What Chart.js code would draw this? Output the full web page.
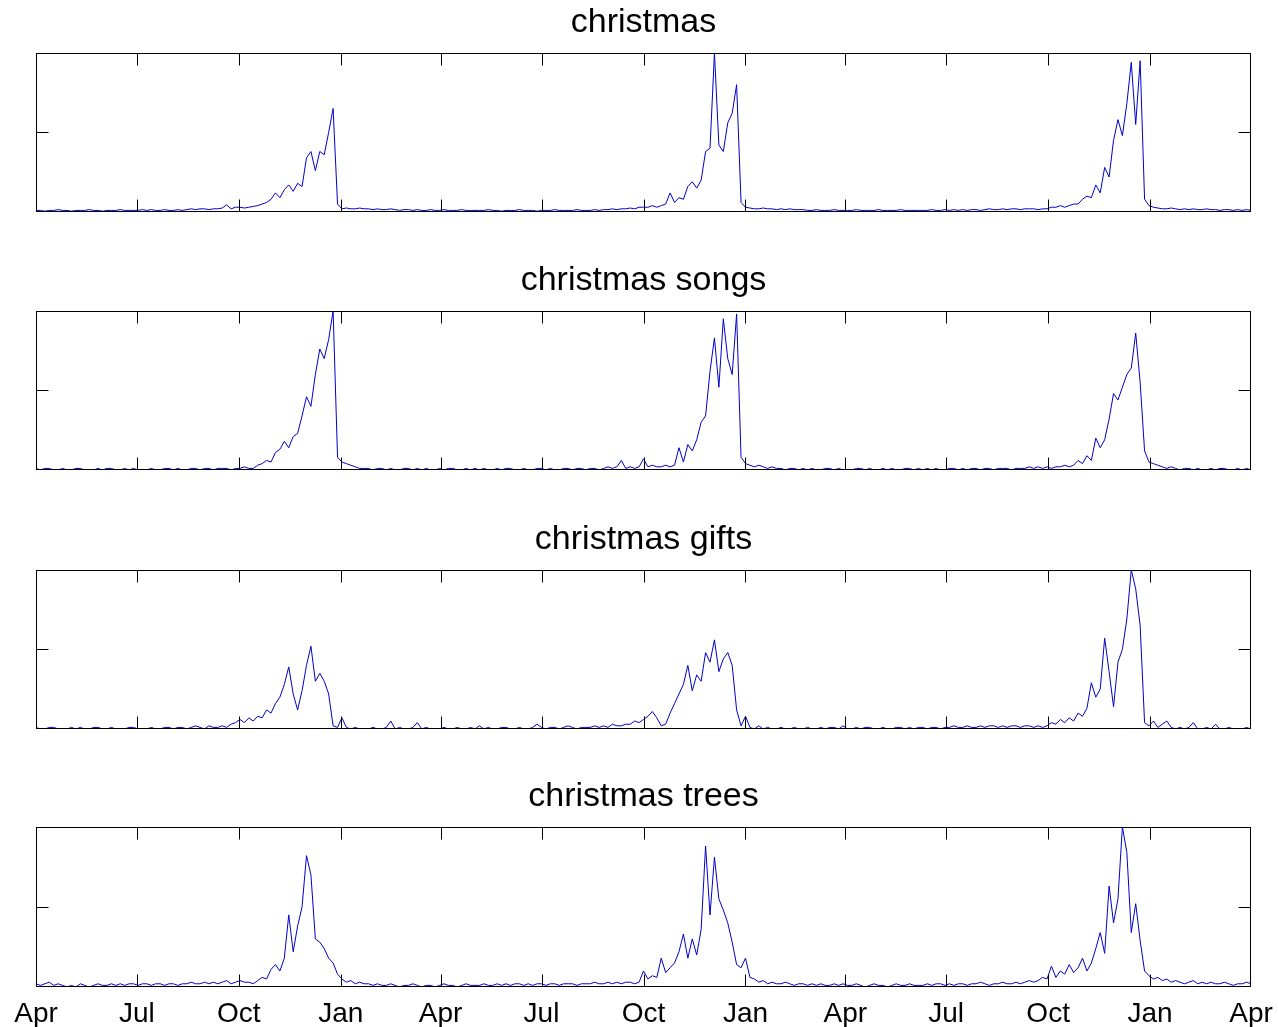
<!DOCTYPE html>
<html>
<head>
<meta charset="utf-8">
<title>christmas</title>
<script src="https://cdn.jsdelivr.net/npm/chart.js@4.4.1/dist/chart.umd.min.js"></script>
<style>
  html, body { margin: 0; padding: 0; background: #fff; }
  body { width: 1278px; height: 1027px; position: relative; overflow: hidden; }
  canvas { position: absolute; left: 0; }
</style>
</head>
<body>
<canvas id="plot0"></canvas>
<canvas id="plot1"></canvas>
<canvas id="plot2"></canvas>
<canvas id="plot3"></canvas>
<script>
// one sample every 4 days, day 0 = 1 Apr, last sample = 1 Apr three years later
const STEP = 4;

const tickDays = [0, 91, 183, 275, 365, 456, 548, 640, 730, 821, 913, 1005, 1096];
const tickLabels = ['Apr', 'Jul', 'Oct', 'Jan', 'Apr', 'Jul', 'Oct', 'Jan', 'Apr', 'Jul', 'Oct', 'Jan', 'Apr'];

const titles = ['christmas', 'christmas songs', 'christmas gifts', 'christmas trees'];

// each row = 25 samples = 100 days
const christmas = [
    1, 1, 0.5, 1, 1, 1.5, 1, 1, 0.5, 1, 1, 1, 1.5, 1, 1, 0.5, 1, 1, 1, 1.5, 1, 1, 1, 1, 1.5,
    1, 1.5, 1, 1, 1.5, 1, 1, 1.5, 1, 1.5, 2, 1.5, 2, 2, 1.5, 2, 2, 2.5, 4.5, 2, 3, 3, 2.5, 3, 3.5,
    4, 5, 6, 8, 12, 9, 14, 17, 13, 18, 16, 34, 38, 26, 38, 36, 50, 65, 5, 2, 2.5, 2, 2, 2.5, 2,
    2, 1.5, 2, 1.5, 1.5, 2, 1.5, 1, 1.5, 1.5, 1, 1.5, 1, 1, 1.5, 1, 1, 1.5, 1, 1, 1, 1.5, 1, 1, 1,
    1, 1, 1.5, 1, 1, 0.5, 1, 1, 1, 1.5, 1, 1, 1, 0.5, 1, 1, 1, 1.5, 1, 1, 1, 1, 1.5, 1, 1,
    1, 1.5, 1, 1.5, 1.5, 2, 1.5, 2, 2, 2.5, 2, 3, 3, 3, 4, 3, 4, 5, 12, 6, 9, 8, 16, 19, 15,
    20, 38, 40, 100, 42, 38, 56, 62, 80, 6, 3, 2.5, 2, 2, 2.5, 2, 2, 1.5, 2, 1.5, 2, 1.5, 1.5, 1.5, 1,
    1, 1.5, 1, 1, 1, 1.5, 1, 1, 1, 1, 1.5, 1, 1, 1, 1, 1.5, 1, 1, 1, 1, 1.5, 1, 1, 1, 1,
    1, 1, 1.5, 1, 1, 1.5, 1, 1.5, 1, 1.5, 1, 1.5, 1.5, 1, 1.5, 2, 1.5, 1.5, 2, 1.5, 2, 2, 1.5, 2, 2,
    2, 1.5, 2, 2, 3, 3, 4, 3, 4, 5, 5, 8, 10, 9, 17, 12, 28, 22, 45, 58, 48, 68, 94, 55, 95,
    8, 4, 3, 2.5, 2, 2, 2.5, 2, 1.5, 2, 1.5, 2, 1.5, 1.5, 2, 1.5, 1.5, 1, 1.5, 1.5, 1, 1.5, 1, 1.5, 1
];

const christmasSongs = [
    1, 0, 1, 1, 0, 0, 1, 0, 0, 1, 1, 0, 0, 0, 1, 0, 1, 1, 0, 0, 1, 0, 1, 0, 0,
    0, 1, 0, 0, 1, 1, 0, 1, 0, 0, 1, 1, 0, 1, 1, 0, 1, 1, 1, 0, 1, 1, 2, 1, 1,
    3, 4, 6, 5, 11, 13, 18, 14, 21, 23, 34, 46, 40, 60, 76, 70, 82, 100, 8, 5, 4, 3, 2, 1, 1,
    1, 0, 1, 1, 0, 1, 0, 0, 1, 1, 0, 1, 0, 1, 0, 0, 1, 0, 1, 1, 0, 0, 1, 0, 1,
    0, 1, 0, 0, 1, 0, 1, 1, 0, 0, 1, 0, 0, 1, 1, 0, 1, 0, 0, 1, 1, 0, 1, 1, 0,
    1, 1, 0, 1, 2, 1, 2, 6, 1, 2, 1, 2, 7, 2, 3, 2, 2, 3, 2, 3, 14, 5, 16, 12, 19,
    30, 34, 62, 83, 52, 95, 70, 60, 98, 8, 4, 3, 2, 3, 2, 1, 2, 1, 1, 0, 1, 1, 0, 1, 0,
    1, 0, 0, 1, 1, 0, 1, 0, 0, 0, 1, 1, 0, 1, 0, 0, 1, 0, 1, 0, 0, 1, 1, 0, 1,
    0, 1, 0, 1, 0, 0, 1, 1, 0, 1, 0, 1, 1, 0, 1, 1, 0, 1, 1, 1, 0, 1, 1, 1, 2,
    1, 2, 1, 2, 1, 2, 2, 3, 2, 3, 6, 4, 9, 6, 20, 14, 19, 32, 48, 44, 52, 60, 64, 86, 55,
    12, 5, 4, 3, 2, 1, 2, 1, 0, 1, 1, 0, 1, 0, 0, 1, 0, 1, 1, 0, 0, 1, 0, 1, 0
];

const christmasGifts = [
    1, 0, 0, 1, 1, 0, 0, 0, 1, 0, 1, 0, 0, 1, 1, 0, 0, 1, 0, 0, 0, 1, 1, 0, 0,
    0, 1, 0, 0, 1, 1, 0, 1, 1, 0, 1, 2, 1, 0, 2, 1, 1, 2, 1, 3, 4, 6, 4, 7, 5,
    8, 7, 12, 10, 16, 20, 28, 39, 22, 12, 24, 40, 52, 30, 35, 30, 22, 2, 1, 7, 1, 0, 1, 0, 0,
    0, 1, 0, 0, 1, 5, 0, 1, 0, 0, 1, 4, 0, 1, 0, 0, 0, 1, 0, 0, 1, 0, 0, 1, 0,
    2, 0, 1, 0, 0, 1, 1, 0, 0, 1, 0, 0, 1, 3, 1, 0, 1, 1, 0, 1, 2, 1, 0, 1, 1,
    1, 2, 1, 2, 1, 3, 2, 2, 3, 3, 5, 4, 6, 8, 11, 7, 2, 3, 10, 16, 22, 28, 40, 24, 34,
    30, 48, 42, 56, 36, 44, 48, 40, 12, 2, 8, 1, 0, 2, 0, 1, 0, 0, 1, 0, 0, 1, 0, 0, 1,
    0, 0, 1, 0, 1, 1, 0, 2, 0, 0, 1, 0, 1, 1, 0, 0, 1, 0, 0, 1, 1, 0, 1, 0, 1,
    1, 0, 1, 1, 0, 1, 1, 2, 1, 1, 2, 1, 1, 2, 1, 2, 2, 1, 2, 1, 2, 2, 1, 2, 2,
    1, 2, 1, 2, 4, 3, 6, 4, 7, 5, 10, 8, 13, 29, 20, 25, 57, 36, 14, 42, 50, 69, 100, 88, 65,
    4, 2, 5, 1, 3, 5, 1, 0, 1, 0, 1, 4, 0, 0, 1, 0, 3, 0, 0, 1, 0, 0, 0, 1, 0
];

const christmasTrees = [
    2, 1, 2, 3, 1, 2, 1, 0, 1, 0, 2, 1, 0, 1, 2, 1, 1, 2, 1, 2, 1, 2, 2, 1, 2,
    2, 1, 2, 2, 1, 2, 2, 1, 2, 2, 3, 2, 2, 3, 2, 3, 2, 3, 4, 2, 3, 4, 3, 3, 2,
    4, 6, 5, 11, 14, 10, 18, 45, 22, 38, 50, 82, 70, 30, 28, 24, 18, 15, 8, 5, 3, 4, 2, 3, 2,
    2, 1, 2, 1, 1, 2, 1, 0, 1, 1, 2, 1, 0, 1, 1, 0, 1, 2, 1, 1, 0, 1, 2, 1, 1,
    1, 2, 1, 1, 2, 1, 2, 1, 2, 2, 1, 2, 1, 2, 2, 1, 2, 2, 1, 2, 2, 2, 1, 2, 2,
    2, 3, 2, 2, 3, 2, 3, 2, 3, 3, 2, 3, 10, 5, 7, 6, 18, 9, 12, 15, 22, 33, 18, 30, 20,
    36, 88, 45, 81, 55, 48, 40, 28, 14, 12, 18, 6, 5, 3, 4, 2, 3, 2, 2, 3, 2, 1, 2, 2, 1,
    2, 1, 2, 1, 1, 2, 1, 2, 1, 1, 2, 1, 0, 1, 2, 1, 1, 0, 1, 2, 1, 1, 2, 1, 1,
    1, 2, 1, 2, 2, 1, 2, 1, 2, 2, 1, 2, 2, 3, 2, 1, 2, 2, 3, 2, 2, 3, 2, 3, 4,
    3, 4, 6, 5, 13, 6, 10, 8, 14, 9, 12, 18, 10, 15, 24, 34, 21, 63, 40, 55, 100, 84, 34, 52, 29,
    10, 7, 5, 6, 4, 5, 3, 4, 3, 2, 3, 4, 2, 3, 2, 3, 2, 2, 3, 2, 1, 2, 2, 3, 2
];

const seriesList = [christmas, christmasSongs, christmasGifts, christmasTrees];

const FONT = "'Liberation Sans', Arial, Helvetica, sans-serif";
const TICK_LEN = 12;
const canvasTops = [0, 258, 517, 774];

// box round the axes with inward ticks, the old matlab look
const matlabAxes = {
    id: 'matlabAxes',
    afterDatasetsDraw(chart) {
        const { ctx, chartArea: a } = chart;
        const x = chart.scales.x;
        const y = chart.scales.y;
        const L = Math.round(a.left) + 0.5;
        const R = Math.round(a.right) - 0.5;
        const T = Math.round(a.top) + 0.5;
        const B = Math.round(a.bottom) - 0.5;

        ctx.save();
        ctx.strokeStyle = '#000';
        ctx.lineWidth = 1;
        ctx.strokeRect(L, T, R - L, B - T);

        ctx.beginPath();
        // end ticks sit on the box edges, so only the inner ones are drawn
        tickDays.slice(1, -1).forEach(d => {
            const px = Math.round(x.getPixelForValue(d)) + 0.5;
            ctx.moveTo(px, T);
            ctx.lineTo(px, T + TICK_LEN);
            ctx.moveTo(px, B);
            ctx.lineTo(px, B - TICK_LEN);
        });
        const py = Math.round(y.getPixelForValue(50)) + 0.5;
        ctx.moveTo(L, py);
        ctx.lineTo(L + TICK_LEN, py);
        ctx.moveTo(R, py);
        ctx.lineTo(R - TICK_LEN, py);
        ctx.stroke();
        ctx.restore();
    }
};

seriesList.forEach((values, k) => {
    const last = k === seriesList.length - 1;
    const canvas = document.getElementById('plot' + k);
    const h = last ? 1027 - canvasTops[k] : 258;
    canvas.width = 1278;
    canvas.height = h;
    canvas.style.top = canvasTops[k] + 'px';

    const xAxis = {
        type: 'linear',
        min: 0,
        max: 1096,
        display: last,
        grid: { display: false, drawTicks: false },
        border: { display: false },
        afterBuildTicks: (scale) => {
            scale.ticks = tickDays.map(v => ({ value: v }));
        },
        ticks: {
            autoSkip: false,
            maxRotation: 0,
            padding: 10,
            color: '#000',
            font: { family: FONT, size: 28 },
            callback: (value) => tickLabels[tickDays.indexOf(value)]
        }
    };
    if (last) {
        // fixed axis height; the end labels fit in the page margins already
        xAxis.afterFit = (scale) => {
            scale.height = 40;
            scale.paddingLeft = 0;
            scale.paddingRight = 0;
        };
    }

    new Chart(canvas.getContext('2d'), {
        type: 'line',
        data: {
            datasets: [{
                data: values.map((v, i) => ({ x: i * STEP, y: v })),
                borderColor: 'rgb(0, 0, 200)',
                borderWidth: 1,
                pointRadius: 0,
                tension: 0,
                fill: false
            }]
        },
        options: {
            responsive: false,
            animation: false,
            events: [],
            layout: {
                padding: { left: 36, right: 27, top: 0, bottom: last ? 0 : 46 }
            },
            plugins: {
                legend: { display: false },
                tooltip: { enabled: false },
                title: {
                    display: true,
                    text: titles[k],
                    color: '#000',
                    font: { family: FONT, size: 34, weight: 'normal' },
                    lineHeight: 1.2,
                    padding: { top: 2, bottom: 10 }
                }
            },
            scales: {
                x: xAxis,
                y: { min: 0, max: 100, display: false }
            }
        },
        plugins: [matlabAxes]
    });
});
</script>
</body>
</html>
